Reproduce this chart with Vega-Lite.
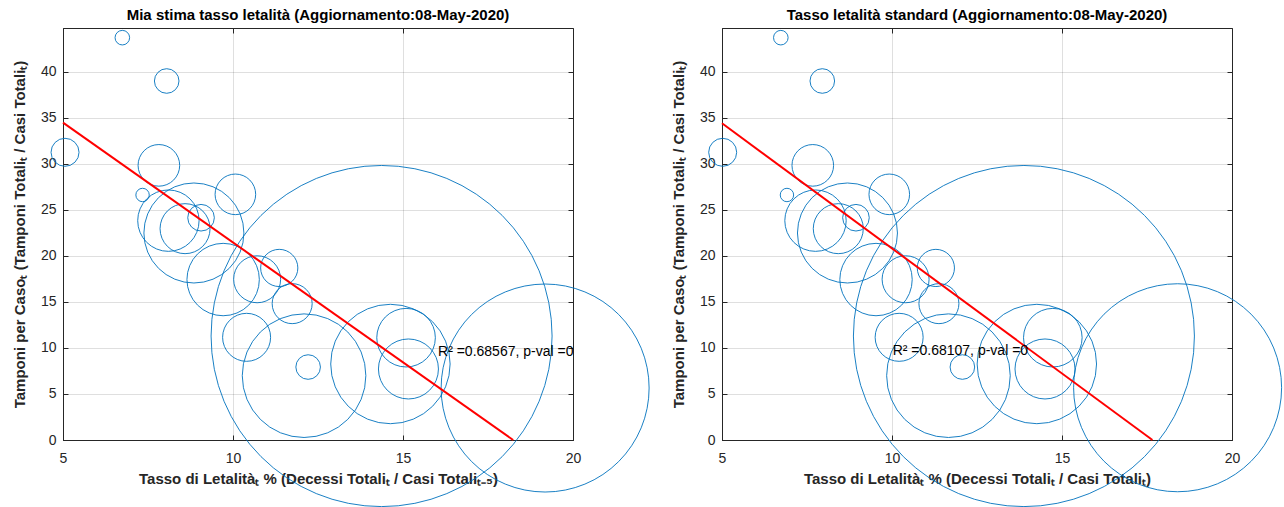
{
  "$schema": "https://vega.github.io/schema/vega-lite/v6.json",
  "padding": {"left": 11, "top": 7, "right": 0, "bottom": 0},
  "bounds": "flush",
  "spacing": 149,
  "datasets": {
    "bolle_sx": [
      {"letalita": 6.745, "tamponi_caso": 43.73, "peso": 53},
      {"letalita": 8.05, "tamponi_caso": 39.02, "peso": 151},
      {"letalita": 5.06, "tamponi_caso": 31.27, "peso": 196},
      {"letalita": 7.82, "tamponi_caso": 29.85, "peso": 433},
      {"letalita": 7.34, "tamponi_caso": 26.63, "peso": 45},
      {"letalita": 10.07, "tamponi_caso": 26.7, "peso": 412},
      {"letalita": 8.85, "tamponi_caso": 22.5, "peso": 2500},
      {"letalita": 8.1, "tamponi_caso": 23.84, "peso": 942},
      {"letalita": 8.59, "tamponi_caso": 22.97, "peso": 625},
      {"letalita": 9.06, "tamponi_caso": 24.16, "peso": 177},
      {"letalita": 9.71, "tamponi_caso": 17.44, "peso": 1310},
      {"letalita": 10.71, "tamponi_caso": 17.47, "peso": 552},
      {"letalita": 11.36, "tamponi_caso": 18.7, "peso": 346},
      {"letalita": 11.74, "tamponi_caso": 14.82, "peso": 400},
      {"letalita": 10.4, "tamponi_caso": 11.16, "peso": 576},
      {"letalita": 12.09, "tamponi_caso": 6.99, "peso": 3819},
      {"letalita": 12.21, "tamponi_caso": 7.93, "peso": 151},
      {"letalita": 14.63, "tamponi_caso": 8.26, "peso": 3564},
      {"letalita": 15.09, "tamponi_caso": 11.12, "peso": 858},
      {"letalita": 15.16, "tamponi_caso": 7.72, "peso": 900},
      {"letalita": 14.37, "tamponi_caso": 11.3, "peso": 29070},
      {"letalita": 19.18, "tamponi_caso": 5.65, "peso": 10816}
    ],
    "bolle_dx": [
      {"letalita": 6.73, "tamponi_caso": 43.73, "peso": 53},
      {"letalita": 7.95, "tamponi_caso": 39.02, "peso": 151},
      {"letalita": 5.02, "tamponi_caso": 31.27, "peso": 196},
      {"letalita": 7.67, "tamponi_caso": 29.85, "peso": 433},
      {"letalita": 6.91, "tamponi_caso": 26.63, "peso": 45},
      {"letalita": 9.92, "tamponi_caso": 26.7, "peso": 412},
      {"letalita": 8.69, "tamponi_caso": 22.5, "peso": 2500},
      {"letalita": 7.75, "tamponi_caso": 23.84, "peso": 942},
      {"letalita": 8.42, "tamponi_caso": 22.97, "peso": 625},
      {"letalita": 8.94, "tamponi_caso": 24.16, "peso": 177},
      {"letalita": 9.53, "tamponi_caso": 17.44, "peso": 1310},
      {"letalita": 10.4, "tamponi_caso": 17.47, "peso": 552},
      {"letalita": 11.29, "tamponi_caso": 18.7, "peso": 346},
      {"letalita": 11.38, "tamponi_caso": 14.82, "peso": 400},
      {"letalita": 10.21, "tamponi_caso": 11.16, "peso": 576},
      {"letalita": 11.66, "tamponi_caso": 6.99, "peso": 3819},
      {"letalita": 12.07, "tamponi_caso": 7.93, "peso": 151},
      {"letalita": 14.26, "tamponi_caso": 8.26, "peso": 3564},
      {"letalita": 14.73, "tamponi_caso": 11.12, "peso": 858},
      {"letalita": 14.5, "tamponi_caso": 7.72, "peso": 900},
      {"letalita": 13.88, "tamponi_caso": 11.3, "peso": 29070},
      {"letalita": 18.4, "tamponi_caso": 5.68, "peso": 10816}
    ],
    "retta_sx": [
      {"letalita": 5, "tamponi_caso": 34.5},
      {"letalita": 18.24, "tamponi_caso": 0}
    ],
    "retta_dx": [
      {"letalita": 5, "tamponi_caso": 34.42},
      {"letalita": 17.66, "tamponi_caso": 0}
    ],
    "nota_sx": [
      {"letalita": 16.03, "tamponi_caso": 9.6, "testo": "R² =0.68567, p-val =0"}
    ],
    "nota_dx": [
      {"letalita": 10.02, "tamponi_caso": 9.65, "testo": "R² =0.68107, p-val =0"}
    ]
  },
  "hconcat": [
    {
      "title": "Mia stima tasso letalità (Aggiornamento:08-May-2020)",
      "width": 510,
      "height": 412,
      "layer": [
        {
          "encoding": {
            "x": {
              "field": "letalita",
              "type": "quantitative",
              "scale": {"domain": [5, 20], "nice": false, "zero": false},
              "axis": {"values": [5, 10, 15, 20], "title": "Tasso di Letalitàₜ % (Decessi Totaliₜ / Casi Totaliₜ₋₅)"}
            },
            "y": {
              "field": "tamponi_caso",
              "type": "quantitative",
              "scale": {"domain": [0, 44.78], "nice": false, "zero": false},
              "axis": {"values": [0, 5, 10, 15, 20, 25, 30, 35, 40], "title": "Tamponi per Casoₜ (Tamponi Totaliₜ / Casi Totaliₜ)"}
            }
          },
          "layer": [
            {
              "data": {"name": "bolle_sx"},
              "mark": {"type": "point", "shape": "circle", "filled": false, "color": "#0072BD", "strokeWidth": 0.9, "opacity": 1},
              "encoding": {
                "size": {"field": "peso", "type": "quantitative", "scale": {"type": "linear", "domain": [0, 100], "range": [0, 400], "zero": true}, "legend": null}
              }
            },
            {
              "data": {"name": "retta_sx"},
              "mark": {"type": "line", "color": "#FF0000", "strokeWidth": 2},
              "encoding": {}
            },
            {
              "data": {"name": "nota_sx"},
              "mark": {"type": "text", "align": "left", "baseline": "middle", "fontSize": 14, "color": "#000000", "font": "Liberation Sans"},
              "encoding": {"text": {"field": "testo", "type": "nominal"}}
            }
          ]
        },
        {
          "data": {"name": "retta_sx"},
          "mark": {"type": "line", "strokeOpacity": 0},
          "encoding": {
            "x": {"field": "letalita", "type": "quantitative", "axis": {"orient": "top", "values": [5, 10, 15, 20], "labels": false, "title": null, "grid": false, "domain": false}},
            "y": {"field": "tamponi_caso", "type": "quantitative", "axis": {"orient": "right", "values": [0, 5, 10, 15, 20, 25, 30, 35, 40], "labels": false, "title": null, "grid": false, "domain": false}}
          }
        }
      ],
      "resolve": {"axis": {"x": "independent", "y": "independent"}}
    },
    {
      "title": "Tasso letalità standard (Aggiornamento:08-May-2020)",
      "width": 510,
      "height": 412,
      "layer": [
        {
          "encoding": {
            "x": {
              "field": "letalita",
              "type": "quantitative",
              "scale": {"domain": [5, 20], "nice": false, "zero": false},
              "axis": {"values": [5, 10, 15, 20], "title": "Tasso di Letalitàₜ % (Decessi Totaliₜ / Casi Totaliₜ)"}
            },
            "y": {
              "field": "tamponi_caso",
              "type": "quantitative",
              "scale": {"domain": [0, 44.78], "nice": false, "zero": false},
              "axis": {"values": [0, 5, 10, 15, 20, 25, 30, 35, 40], "title": "Tamponi per Casoₜ (Tamponi Totaliₜ / Casi Totaliₜ)"}
            }
          },
          "layer": [
            {
              "data": {"name": "bolle_dx"},
              "mark": {"type": "point", "shape": "circle", "filled": false, "color": "#0072BD", "strokeWidth": 0.9, "opacity": 1},
              "encoding": {
                "size": {"field": "peso", "type": "quantitative", "scale": {"type": "linear", "domain": [0, 100], "range": [0, 400], "zero": true}, "legend": null}
              }
            },
            {
              "data": {"name": "retta_dx"},
              "mark": {"type": "line", "color": "#FF0000", "strokeWidth": 2},
              "encoding": {}
            },
            {
              "data": {"name": "nota_dx"},
              "mark": {"type": "text", "align": "left", "baseline": "middle", "fontSize": 14, "color": "#000000", "font": "Liberation Sans"},
              "encoding": {"text": {"field": "testo", "type": "nominal"}}
            }
          ]
        },
        {
          "data": {"name": "retta_dx"},
          "mark": {"type": "line", "strokeOpacity": 0},
          "encoding": {
            "x": {"field": "letalita", "type": "quantitative", "axis": {"orient": "top", "values": [5, 10, 15, 20], "labels": false, "title": null, "grid": false, "domain": false}},
            "y": {"field": "tamponi_caso", "type": "quantitative", "axis": {"orient": "right", "values": [0, 5, 10, 15, 20, 25, 30, 35, 40], "labels": false, "title": null, "grid": false, "domain": false}}
          }
        }
      ],
      "resolve": {"axis": {"x": "independent", "y": "independent"}}
    }
  ],
  "config": {
    "font": "Liberation Sans",
    "background": "#ffffff",
    "view": {"stroke": "#262626", "strokeWidth": 1},
    "axis": {
      "grid": true,
      "gridColor": "#262626",
      "gridOpacity": 0.15,
      "domainColor": "#262626",
      "ticks": true,
      "tickSize": -5,
      "tickColor": "#262626",
      "labelFontSize": 14,
      "labelColor": "#262626",
      "labelFont": "Liberation Sans",
      "labelFlush": false,
      "titleFont": "Liberation Sans",
      "titleFontSize": 15,
      "titleFontWeight": "bold",
      "titleColor": "#262626"
    },
    "axisX": {"labelPadding": 16, "titlePadding": 6},
    "axisY": {"labelPadding": 12, "titlePadding": 13},
    "title": {"font": "Liberation Sans", "fontSize": 15, "fontWeight": "bold", "color": "#000000", "offset": 5, "anchor": "middle"}
  }
}
